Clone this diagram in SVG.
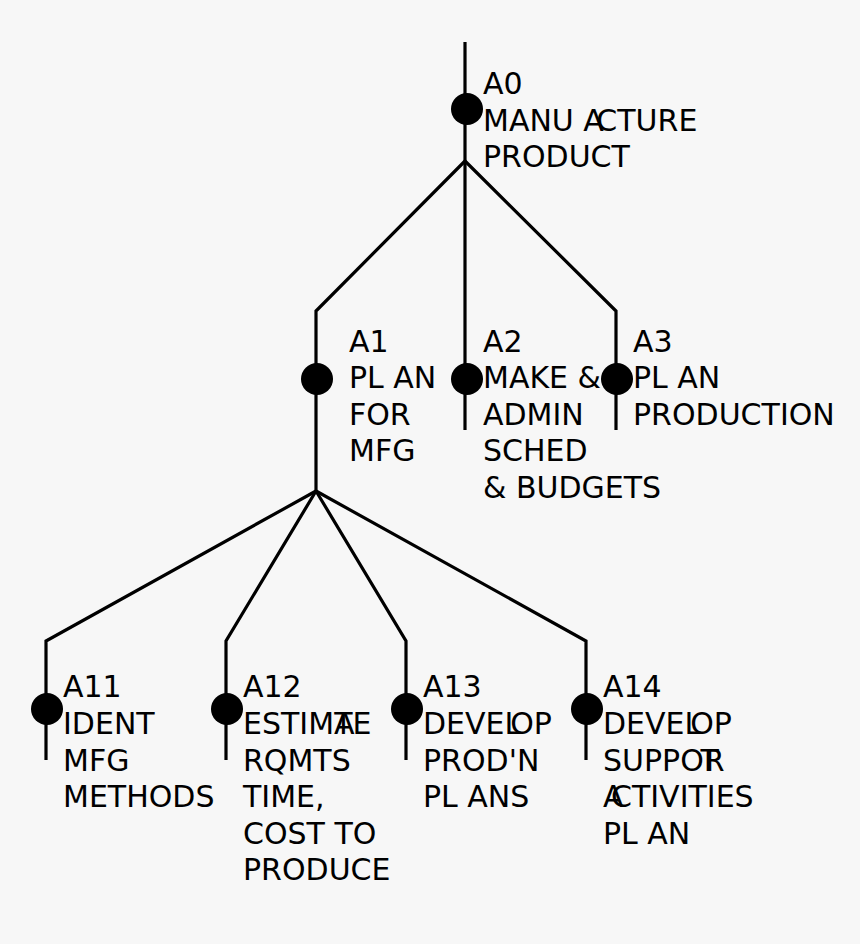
<svg xmlns="http://www.w3.org/2000/svg" width="860" height="944" viewBox="0 0 860 944">
<style>
.bg{fill:#f7f7f7}
.ln{stroke:#000;stroke-width:3.2;fill:none;stroke-linecap:butt}
.dot{fill:#000}
.t{font-family:"DejaVu Sans",sans-serif;font-size:30px;fill:#000}
</style>
<rect class="bg" x="0" y="0" width="860" height="944"/>
<g id="connectors">
<path class="ln" d="M465,42 V161"/>
<path class="ln" d="M465,161 L316,311 V491"/>
<path class="ln" d="M465,161 V430"/>
<path class="ln" d="M465,161 L616,311 V430"/>
<path class="ln" d="M316,491 L46,641 V760"/>
<path class="ln" d="M316,491 L226,641 V760"/>
<path class="ln" d="M316,491 L406,641 V760"/>
<path class="ln" d="M316,491 L586,641 V760"/>
</g>
<g id="A0">
<circle class="dot" cx="467" cy="109" r="16"/>
<text class="t" x="483" y="94">A0</text>
<text class="t" x="483" y="130.5">MANU A<tspan dx="-7">CTURE</tspan></text>
<text class="t" x="483" y="167">PRODUCT</text>
</g>
<g id="A1">
<circle class="dot" cx="317" cy="379" r="16"/>
<text class="t" x="349" y="352">A1</text>
<text class="t" x="349" y="388">PL AN</text>
<text class="t" x="349" y="424.5">FOR</text>
<text class="t" x="349" y="461">MFG</text>
</g>
<g id="A2">
<circle class="dot" cx="467" cy="379" r="16"/>
<text class="t" x="483" y="352">A2</text>
<text class="t" x="483" y="388">MAKE &amp;</text>
<text class="t" x="483" y="424.5">ADMIN</text>
<text class="t" x="483" y="461">SCHED</text>
<text class="t" x="483" y="497.5">&amp; BUDGETS</text>
</g>
<g id="A3">
<circle class="dot" cx="617" cy="379" r="16"/>
<text class="t" x="633" y="352">A3</text>
<text class="t" x="633" y="388">PL AN</text>
<text class="t" x="633" y="424.5">PRODUCTION</text>
</g>
<g id="A11">
<circle class="dot" cx="47" cy="709" r="16"/>
<text class="t" x="63" y="697">A11</text>
<text class="t" x="63" y="734">IDENT</text>
<text class="t" x="63" y="770.5">MFG</text>
<text class="t" x="63" y="807">METHODS</text>
</g>
<g id="A12">
<circle class="dot" cx="227" cy="709" r="16"/>
<text class="t" x="243" y="697">A12</text>
<text class="t" x="243" y="734">ESTIMA<tspan dx="-18">TE</tspan></text>
<text class="t" x="243" y="770.5">RQMTS</text>
<text class="t" x="243" y="807">TIME,</text>
<text class="t" x="243" y="843.5">COST TO</text>
<text class="t" x="243" y="880">PRODUCE</text>
</g>
<g id="A13">
<circle class="dot" cx="407" cy="709" r="16"/>
<text class="t" x="423" y="697">A13</text>
<text class="t" x="423" y="734">DEVEL<tspan dx="-10">OP</tspan></text>
<text class="t" x="423" y="770.5">PROD'N</text>
<text class="t" x="423" y="807">PL ANS</text>
</g>
<g id="A14">
<circle class="dot" cx="587" cy="709" r="16"/>
<text class="t" x="603" y="697">A14</text>
<text class="t" x="603" y="734">DEVEL<tspan dx="-10">OP</tspan></text>
<text class="t" x="603" y="770.5">SUPPOR<tspan dx="-22">T</tspan></text>
<text class="t" x="603" y="807">A<tspan dx="-12">CTIVITIES</tspan></text>
<text class="t" x="603" y="843.5">PL AN</text>
</g>
</svg>
